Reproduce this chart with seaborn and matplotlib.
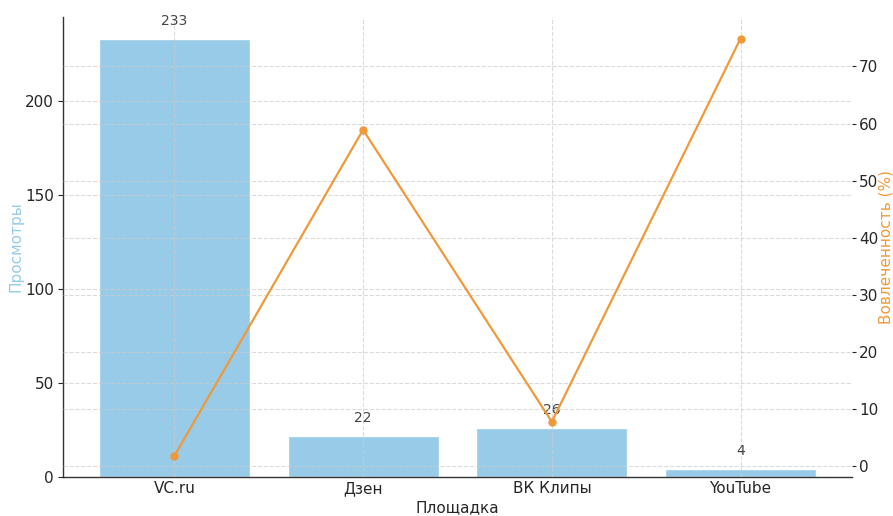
import matplotlib
matplotlib.use("Agg")
import matplotlib.pyplot as plt
import seaborn as sns
import pandas as pd

platforms = ["VC.ru", "Дзен", "ВК Клипы", "YouTube"]
views = [233, 22, 26, 4]
engagement = [1.7, 58.9, 7.7, 74.9]

df = pd.DataFrame({"Площадка": platforms, "Просмотры": views, "Вовлеченность": engagement})

sns.set_theme(style="white")
plt.rcParams["font.family"] = ["DejaVu Sans"]

bar_color = "#97CBE7"
line_color = "#F0993A"
text_color = "#262626"

fig = plt.figure(figsize=(8.93, 5.16), dpi=100)
ax = fig.add_axes([0.0705, 0.0756, 0.8835, 0.8914])

sns.barplot(data=df, x="Площадка", y="Просмотры", color=bar_color, width=0.8,
            saturation=1, ax=ax, zorder=1)
ax.set_xlim(-0.59, 3.59)
ax.set_ylim(0, 244.65)
ax.set_axisbelow(False)
ax.grid(True, linestyle="--", color="#cccccc", linewidth=0.8, alpha=0.7, zorder=2)

for i, v in enumerate(views):
    ax.annotate(str(v), (i, v), xytext=(0, 8), textcoords="offset points",
                ha="center", va="bottom", fontsize=10, color="#444444")

ax.set_xlabel("Площадка", fontsize=11, color=text_color, labelpad=3)
ax.set_ylabel("Просмотры", fontsize=11, color=bar_color, labelpad=1)
ax.tick_params(axis="both", labelsize=11, colors=text_color, length=3.5, width=0.8,
               left=True, bottom=True, pad=3)
ax.tick_params(axis="x", length=0)
for s in ["top", "right"]:
    ax.spines[s].set_visible(False)
for s in ["left", "bottom"]:
    ax.spines[s].set_color("#333333")
    ax.spines[s].set_linewidth(1.0)

ax2 = ax.twinx()
sns.lineplot(data=df, x="Площадка", y="Вовлеченность", color=line_color, marker="o",
             markersize=6, markeredgewidth=0, linewidth=1.6, ax=ax2, sort=False)
ax2.set_ylim(-1.97, 78.67)
ax2.set_ylabel("Вовлеченность (%)", fontsize=11, color=line_color, labelpad=0)
ax2.grid(True, axis="y", linestyle="--", color="#cccccc", linewidth=0.8, alpha=0.7)
ax2.tick_params(axis="y", labelsize=11, colors=text_color, length=3, width=0.8,
                right=True, pad=2)
for s in ["top", "right", "left", "bottom"]:
    ax2.spines[s].set_visible(False)

fig.savefig("out.png", dpi=100)
